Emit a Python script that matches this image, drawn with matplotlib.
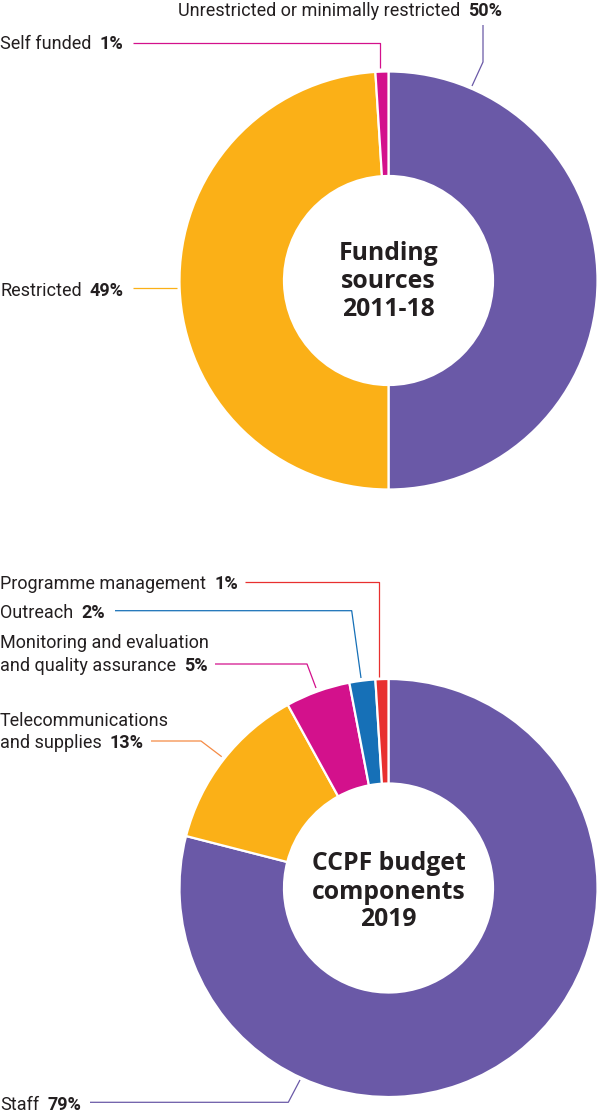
import matplotlib
matplotlib.use("Agg")
import matplotlib.pyplot as plt

W, H = 600, 1115

# ---- data ----
fund_labels = ["Unrestricted or minimally restricted", "Restricted", "Self funded"]
fund_values = [50, 49, 1]
fund_pct = ["50%", "49%", "1%"]

budget_labels = ["Staff", "Telecommunications\nand supplies",
                 "Monitoring and evaluation\nand quality assurance",
                 "Outreach", "Programme management"]
budget_values = [79, 13, 5, 2, 1]
budget_pct = ["79%", "13%", "5%", "2%", "1%"]

# ---- style ----
PURPLE = "#6A59A7"
ORANGE = "#FBB017"
MAGENTA = "#D3118C"
BLUE = "#1670B7"
RED = "#E8302F"
TEXT = "#231F20"
FONT = "Roboto"
TFONT = "Open Sans"
FS = 13

fund_colors = [PURPLE, ORANGE, MAGENTA]
budget_colors = [PURPLE, ORANGE, MAGENTA, BLUE, RED]

fig = plt.figure(figsize=(W / 100, H / 100), dpi=100)
ax = fig.add_axes([0, 0, 1, 1])

R_OUT, WIDTH = 209, 104.5
CX = 388.5
CY_TOP, CY_BOT = 280.5, 888.0

wp = dict(width=WIDTH, edgecolor="white", linewidth=1.6)
ax.pie(fund_values, colors=fund_colors, startangle=90, counterclock=False,
       radius=R_OUT, center=(CX, H - CY_TOP), wedgeprops=wp)
ax.pie(budget_values, colors=budget_colors, startangle=90, counterclock=False,
       radius=R_OUT, center=(CX, H - CY_BOT), wedgeprops=wp)

ax.set_xlim(0, W)
ax.set_ylim(0, H)
ax.set_aspect("equal")
ax.axis("off")


def leader(pts, color):
    xs = [p[0] for p in pts]
    ys = [H - p[1] for p in pts]
    ax.plot(xs, ys, color=color, lw=0.9, solid_capstyle="butt")


def label(x, lines, pct, gap=8):
    """lines: list of (text, baseline y); pct follows the last line."""
    txts = []
    for t, yb in lines:
        txts.append(ax.text(x, H - yb, t, fontsize=FS, family=FONT, color=TEXT,
                            ha="left", va="baseline"))
    fig.canvas.draw()
    bb = txts[-1].get_window_extent()
    ax.text(bb.x1 + gap, H - lines[-1][1], pct, fontsize=FS, family=FONT,
            fontweight="bold", color=TEXT, ha="left", va="baseline")


# ---- top donut labels ----
label(178, [(fund_labels[0], 16)], fund_pct[0])
leader([(483, 25), (483, 62), (472, 86)], PURPLE)

label(0, [(fund_labels[2], 49)], fund_pct[2])
leader([(133, 42.5), (380, 42.5), (380, 68)], MAGENTA)

label(0, [(fund_labels[1], 296)], fund_pct[1])
leader([(133, 287.7), (177, 287.7)], ORANGE)

# ---- bottom donut labels ----
label(0, [(budget_labels[4], 589)], budget_pct[4])
leader([(245, 581.5), (379, 581.5), (379, 677)], RED)

label(0, [(budget_labels[3], 618)], budget_pct[3])
leader([(115, 610.7), (351.7, 610.7), (361, 678)], BLUE)

l1, l2 = budget_labels[2].split("\n")
label(0, [(l1, 648.5), (l2, 671)], budget_pct[2])
leader([(215, 664), (307, 664), (316, 688)], MAGENTA)

l1, l2 = budget_labels[1].split("\n")
label(0, [(l1, 726.5), (l2, 748.5)], budget_pct[1])
leader([(151, 741), (201, 741), (221.7, 756.7)], "#F58B45")

label(0, [(budget_labels[0], 1110)], budget_pct[0])
leader([(90, 1102.3), (288.3, 1102.3), (300, 1080)], PURPLE)

# ---- centre titles ----
for t, yb in [("Funding", 260), ("sources", 287.5), ("2011-18", 315.5)]:
    ax.text(CX, H - yb, t, fontsize=17.8, family=TFONT, fontweight="bold",
            color=TEXT, ha="center", va="baseline")
for t, yb in [("CCPF budget", 870.5), ("components", 899), ("2019", 926.5)]:
    ax.text(CX, H - yb, t, fontsize=17.8, family=TFONT, fontweight="bold",
            color=TEXT, ha="center", va="baseline")

fig.savefig("out.png", dpi=100)
